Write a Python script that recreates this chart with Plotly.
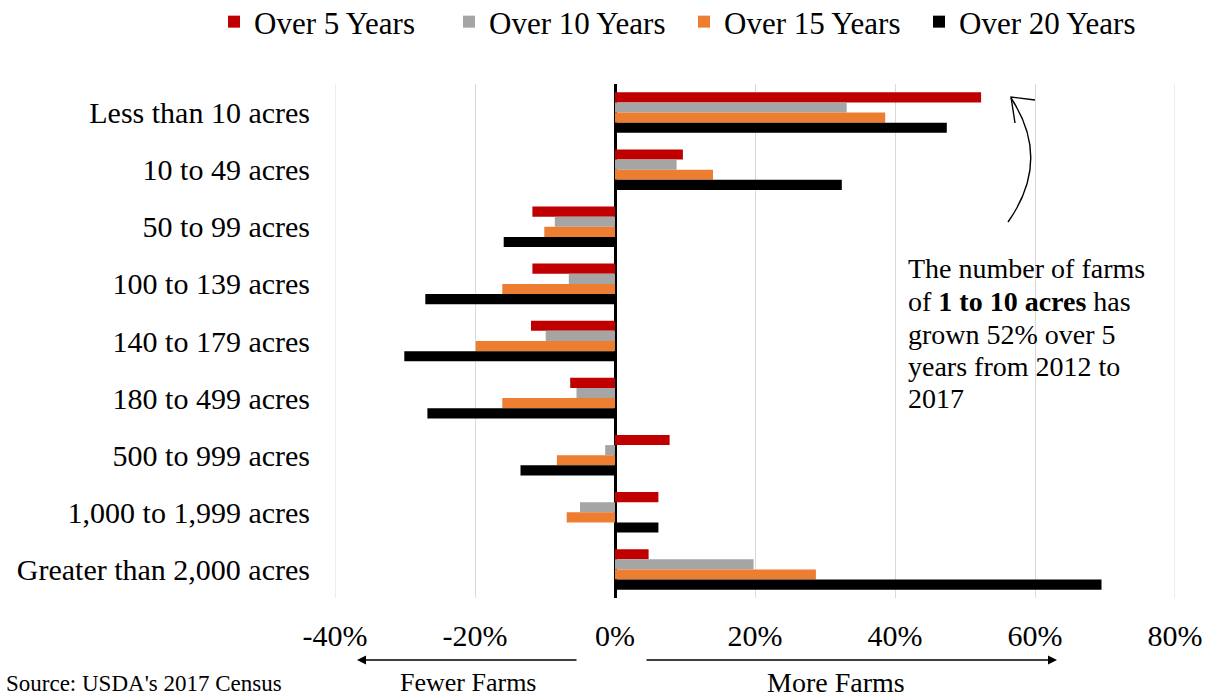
import plotly.graph_objects as go

categories = ["Less than 10 acres", "10 to 49 acres", "50 to 99 acres", "100 to 139 acres",
              "140 to 179 acres", "180 to 499 acres", "500 to 999 acres",
              "1,000 to 1,999 acres", "Greater than 2,000 acres"]
series_names = ["Over 5 Years", "Over 10 Years", "Over 15 Years", "Over 20 Years"]
over5 = [52.3, 9.7, -11.8, -11.8, -12.0, -6.4, 7.8, 6.2, 4.8]
over10 = [33.1, 8.8, -8.6, -6.6, -9.9, -5.5, -1.4, -5.0, 19.8]
over15 = [38.6, 14.0, -10.1, -16.1, -19.9, -16.1, -8.3, -6.9, 28.7]
over20 = [47.4, 32.4, -15.9, -27.1, -30.1, -26.8, -13.5, 6.2, 69.5]
tick_vals = [-40, -20, 0, 20, 40, 60, 80]
tick_text = ["-40%", "-20%", "0%", "20%", "40%", "60%", "80%"]
callout_lines = ["The number of farms", "of <b>1 to 10 acres</b> has", "grown 52% over 5",
                 "years from 2012 to", "2017"]
colors = ["#C00000", "#A5A5A5", "#ED7D31", "#000000"]

W, H = 1213, 698
L, R, T, B = 335, 38, 84, 100
PW, PH = W - L - R, H - T - B

def px(x):
    return (x - L) / PW

def py(y):
    return (H - B - y) / PH

FONT = "Liberation Serif, Times New Roman, serif"

fig = go.Figure()
for name, vals, col in zip(series_names, [over5, over10, over15, over20], colors):
    fig.add_trace(go.Bar(y=categories, x=vals, name=name, orientation="h",
                         marker=dict(color=col, line=dict(width=0))))

fig.update_layout(
    width=W, height=H,
    margin=dict(l=L, r=R, t=T, b=B, pad=0, autoexpand=False),
    paper_bgcolor="white", plot_bgcolor="white",
    barmode="group", bargap=0.29, bargroupgap=0,
    font=dict(family=FONT, size=28, color="#000000"),
    showlegend=True,
    legend=dict(orientation="h", x=px(214), y=py(22), xanchor="left", yanchor="middle",
                font=dict(family=FONT, size=31), itemwidth=30, tracegroupgap=0,
                entrywidth=190, entrywidthmode="pixels",
                bgcolor="rgba(0,0,0,0)"),
    xaxis=dict(range=[-40, 80], tickvals=tick_vals, ticktext=tick_text,
               showgrid=True, gridcolor="#D9D9D9", gridwidth=1,
               zeroline=True, zerolinecolor="#000000", zerolinewidth=3,
               showline=False, ticks="", ticklabelstandoff=17,
               tickfont=dict(family=FONT, size=30)),
    yaxis=dict(autorange="reversed", showgrid=False, zeroline=False, showline=False,
               ticks="", ticklabelstandoff=24, tickfont=dict(family=FONT, size=30)),
)

# edge gridlines at the axis range ends
for v in (tick_vals[0], tick_vals[-1]):
    fig.add_shape(type="line", xref="x", yref="paper", x0=v, x1=v, y0=0, y1=1,
                  line=dict(color="#D9D9D9", width=1), layer="below")

annotations = []
# callout text, one line per annotation
line_y = [268, 301, 334, 366, 398]
for txt, yy in zip(callout_lines, line_y):
    annotations.append(dict(xref="paper", yref="paper", x=px(906), y=py(yy),
                            xanchor="left", yanchor="middle", align="left", showarrow=False,
                            text=txt, font=dict(family=FONT, size=28, color="#000000")))
# bottom arrows
annotations.append(dict(xref="paper", yref="paper", x=px(357), y=py(660), ax=221, ay=0,
                        showarrow=True, arrowhead=2, arrowsize=1.2, arrowwidth=1.5,
                        arrowcolor="#000000", text=""))
annotations.append(dict(xref="paper", yref="paper", x=px(1057), y=py(660), ax=-412, ay=0,
                        showarrow=True, arrowhead=2, arrowsize=1.2, arrowwidth=1.5,
                        arrowcolor="#000000", text=""))
annotations.append(dict(xref="paper", yref="paper", x=px(468), y=py(682), showarrow=False,
                        xanchor="center", yanchor="middle",
                        text="Fewer Farms", font=dict(family=FONT, size=26)))
annotations.append(dict(xref="paper", yref="paper", x=px(836), y=py(682), showarrow=False,
                        xanchor="center", yanchor="middle",
                        text="More Farms", font=dict(family=FONT, size=28)))
annotations.append(dict(xref="paper", yref="paper", x=px(4), y=py(698), xanchor="left",
                        yanchor="bottom", showarrow=False,
                        text="Source: USDA's 2017 Census", font=dict(family=FONT, size=23)))
fig.update_layout(annotations=annotations)

# curved arrow shaft
fig.add_shape(type="path", xref="paper", yref="paper",
              path=f"M {px(1008)},{py(222)} Q {px(1052)},{py(160)} {px(1011)},{py(98)}",
              line=dict(color="#000000", width=1.4))
# open arrow head
fig.add_shape(type="path", xref="paper", yref="paper",
              path=f"M {px(1035)},{py(100)} L {px(1011)},{py(97)} L {px(1015)},{py(123)}",
              line=dict(color="#000000", width=1.4))

fig.write_html("out.html")
